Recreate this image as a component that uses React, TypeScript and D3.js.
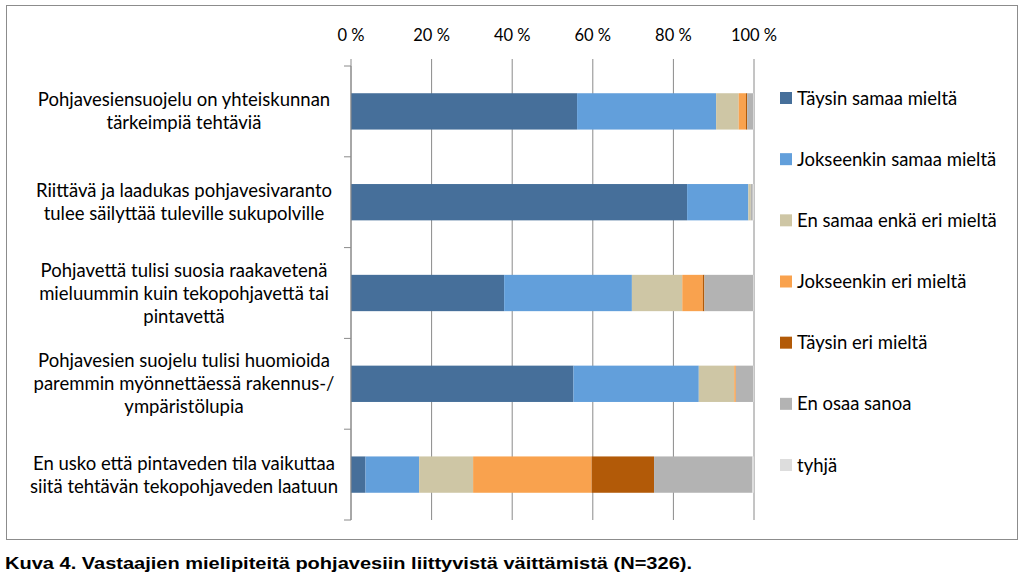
import React from "react";
import * as d3 from "d3";

const categories = [
  ["Pohjavesiensuojelu on yhteiskunnan", "tärkeimpiä tehtäviä"],
  ["Riittävä ja laadukas pohjavesivaranto", "tulee säilyttää tuleville sukupolville"],
  ["Pohjavettä tulisi suosia raakavetenä", "mieluummin kuin tekopohjavettä tai", "pintavettä"],
  ["Pohjavesien suojelu tulisi huomioida", "paremmin myönnettäessä rakennus-/", "ympäristölupia"],
  ["En usko että pintaveden tila vaikuttaa", "siitä tehtävän tekopohjaveden laatuun"],
];

const seriesNames = [
  "Täysin samaa mieltä",
  "Jokseenkin samaa mieltä",
  "En samaa enkä eri mieltä",
  "Jokseenkin eri mieltä",
  "Täysin eri mieltä",
  "En osaa sanoa",
  "tyhjä",
];

const seriesColors = ["#466F9A", "#629FDB", "#CEC6A5", "#F9A24E", "#B25A08", "#B3B3B3", "#DDDDDD"];

// values per category, in series order (percent)
const taysinSamaa = [56.1, 83.4, 38.0, 55.2, 3.6];
const jokseenkinSamaa = [34.5, 15.2, 31.7, 31.1, 13.3];
const enSamaaEnkaEri = [5.6, 0.6, 12.5, 8.8, 13.4];
const jokseenkinEri = [1.8, 0.0, 5.1, 0.4, 29.4];
const taysinEri = [0.3, 0.0, 0.4, 0.0, 15.5];
const enOsaaSanoa = [1.5, 0.5, 12.1, 4.3, 24.4];
const tyhja = [0.2, 0.3, 0.2, 0.2, 0.4];

const xTicks = [0, 20, 40, 60, 80, 100];
const caption = "Kuva 4. Vastaajien mielipiteitä pohjavesiin liittyvistä väittämistä (N=326).";

const seriesValues = [taysinSamaa, jokseenkinSamaa, enSamaaEnkaEri, jokseenkinEri, taysinEri, enOsaaSanoa, tyhja];

export default function App() {
  const font = "Lato, 'Open Sans', sans-serif";
  const x = d3.scaleLinear().domain([0, 100]).range([351, 754]);
  const idx = categories.map((_, i) => String(i));
  const y = d3.scaleBand().domain(idx).range([66, 520]).paddingInner(0.6).paddingOuter(0.3);

  const rows = categories.map((_, i) => {
    const obj: any = { key: String(i) };
    seriesNames.forEach((s, j) => (obj[s] = seriesValues[j][i]));
    return obj;
  });
  const stacked = d3.stack().keys(seriesNames)(rows);

  const legendY = d3.scalePoint().domain(seriesNames).range([98, 465]);

  const boundaries = d3.range(categories.length + 1).map((i) => 66 + i * ((520 - 66) / categories.length));

  return (
    <div style={{ position: "fixed", left: 0, top: 0 }}>
      <svg width={1024} height={580} style={{ display: "block", background: "#fff" }}>
        <rect x={6.5} y={5.5} width={1011} height={534} fill="#fff" stroke="#8c8c8c" strokeWidth={1} />
        {xTicks.map((t) => (
          <line key={"g" + t} x1={x(t)} x2={x(t)} y1={59} y2={520} stroke="#8a8a8a" strokeWidth={1} />
        ))}
        {xTicks.map((t) => (
          <text key={"t" + t} x={x(t)} y={41} textAnchor="middle" fontFamily={font} fontSize={16.5} fill="#000">
            {t + " %"}
          </text>
        ))}
        {stacked.map((layer, j) =>
          layer.map((d, i) => (
            <rect
              key={j + "-" + i}
              x={x(d[0])}
              width={Math.max(0, x(d[1]) - x(d[0]))}
              y={y(String(i))!}
              height={y.bandwidth()}
              fill={seriesColors[j]}
            />
          ))
        )}
        <line x1={351} x2={351} y1={66} y2={520} stroke="#8a8a8a" strokeWidth={1} />
        {boundaries.map((b, i) => (
          <line key={"cb" + i} x1={344} x2={351} y1={b} y2={b} stroke="#8a8a8a" strokeWidth={1} />
        ))}
        {categories.map((lines, i) => {
          const cy = y(String(i))! + y.bandwidth() / 2;
          const lh = 23;
          const start = cy - ((lines.length - 1) * lh) / 2;
          return (
            <text key={"c" + i} textAnchor="middle" fontFamily={font} fontSize={18.5} fill="#000">
              {lines.map((l, k) => (
                <tspan key={k} x={184} y={start + k * lh + 6.5}>
                  {l}
                </tspan>
              ))}
            </text>
          );
        })}
        {seriesNames.map((s, j) => (
          <g key={"l" + s}>
            <rect x={780} y={legendY(s)! - 6} width={12} height={12} fill={seriesColors[j]} />
            <text x={797} y={legendY(s)! + 6.5} fontFamily={font} fontSize={18.5} fill="#000">
              {s}
            </text>
          </g>
        ))}
        <text x={5} y={569} fontFamily="'Liberation Sans', Arial, sans-serif" fontWeight="bold" fontSize={16} fill="#000" textLength={687} lengthAdjust="spacingAndGlyphs">
          {caption}
        </text>
      </svg>
    </div>
  );
}
